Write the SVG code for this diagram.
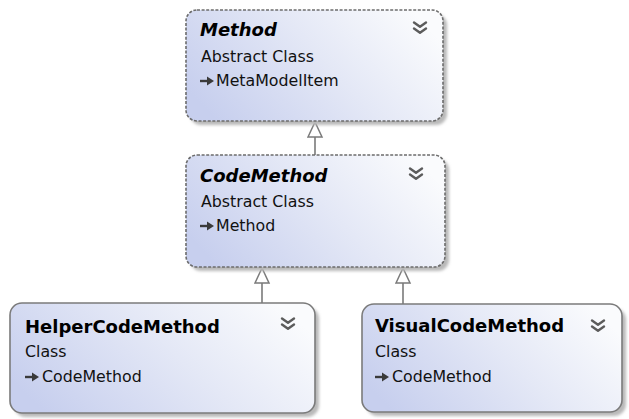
<svg xmlns="http://www.w3.org/2000/svg" width="629" height="419" viewBox="0 0 629 419">
  <defs>
    <linearGradient id="classFill" x1="0" y1="0.7" x2="1" y2="0.3">
      <stop offset="0" stop-color="#c7cfee"/>
      <stop offset="0.55" stop-color="#e4e8f6"/>
      <stop offset="1" stop-color="#fafbfd"/>
    </linearGradient>
    <filter id="softShadow" x="-5%" y="-5%" width="115%" height="115%">
      <feGaussianBlur stdDeviation="1.4"/>
    </filter>
    <marker id="inherit" markerUnits="userSpaceOnUse" markerWidth="18" markerHeight="18" refX="16" refY="8" orient="auto">
      <path d="M1,1 L16,8 L1,15 Z" fill="#ffffff" stroke="#7a7a7a" stroke-width="1.5" stroke-linejoin="miter"/>
    </marker>
    <g id="expander">
      <path d="M-6,-5.5 L0,-1.2 L6,-5.5 M-6,0.5 L0,4.8 L6,0.5" fill="none" stroke="#5c5c5c" stroke-width="2.4" stroke-linecap="round" stroke-linejoin="round"/>
    </g>
    <g id="baseIcon">
      <path d="M0,0 L8,0" stroke="#3a3a3a" stroke-width="2.4"/>
      <path d="M7,-4.5 L14,0 L7,4.5 Z" fill="#3a3a3a"/>
    </g>
  </defs>
  <style>
    .shadow { fill: #b9b9b9; filter: url(#softShadow); }
    .box { fill: url(#classFill); stroke: #7b7b7b; stroke-width: 1.6; }
    .abstract { stroke: #6c6c6c; stroke-dasharray: 3 1.6; }
    .title { font-family: "DejaVu Sans", "Liberation Sans", sans-serif; font-weight: bold; font-size: 18px; fill: #000; }
    .abstractTitle { font-style: italic; }
    .info { font-family: "DejaVu Sans", "Liberation Sans", sans-serif; font-size: 15.8px; fill: #111; }
    .edge { fill: none; stroke: #7a7a7a; stroke-width: 1.6; marker-end: url(#inherit); }
  </style>

  <!-- inheritance connectors -->
  <g id="connectors">
    <path class="edge" d="M315,155 L315,122"/>
    <path class="edge" d="M262,303 L262,268"/>
    <path class="edge" d="M403,304 L403,268"/>
  </g>

  <!-- Method (abstract) -->
  <g id="node-Method">
    <rect class="shadow" x="190" y="14" width="257" height="111" rx="11"/>
    <rect class="box abstract" x="186" y="10" width="257" height="111" rx="11"/>
    <text class="title abstractTitle" x="200" y="36">Method</text>
    <text class="info" x="201" y="62">Abstract Class</text>
    <use href="#baseIcon" x="200" y="81"/>
    <text class="info" x="216" y="86">MetaModelItem</text>
    <use href="#expander" x="420" y="28"/>
  </g>

  <!-- CodeMethod (abstract) -->
  <g id="node-CodeMethod">
    <rect class="shadow" x="190" y="159" width="259" height="112" rx="11"/>
    <rect class="box abstract" x="186" y="155" width="259" height="112" rx="11"/>
    <text class="title abstractTitle" x="200" y="182">CodeMethod</text>
    <text class="info" x="201" y="207">Abstract Class</text>
    <use href="#baseIcon" x="200" y="226"/>
    <text class="info" x="216" y="231">Method</text>
    <use href="#expander" x="416" y="174"/>
  </g>

  <!-- HelperCodeMethod -->
  <g id="node-HelperCodeMethod">
    <rect class="shadow" x="14" y="307" width="305" height="110" rx="12"/>
    <rect class="box" x="10" y="303" width="305" height="110" rx="12"/>
    <text class="title" x="25" y="333">HelperCodeMethod</text>
    <text class="info" x="25" y="357">Class</text>
    <use href="#baseIcon" x="25" y="377"/>
    <text class="info" x="42" y="382">CodeMethod</text>
    <use href="#expander" x="288" y="324"/>
  </g>

  <!-- VisualCodeMethod -->
  <g id="node-VisualCodeMethod">
    <rect class="shadow" x="366" y="308" width="260" height="108" rx="12"/>
    <rect class="box" x="362" y="304" width="260" height="108" rx="12"/>
    <text class="title" x="375" y="332">VisualCodeMethod</text>
    <text class="info" x="375" y="357">Class</text>
    <use href="#baseIcon" x="375" y="377"/>
    <text class="info" x="392" y="382">CodeMethod</text>
    <use href="#expander" x="598" y="326"/>
  </g>
</svg>
